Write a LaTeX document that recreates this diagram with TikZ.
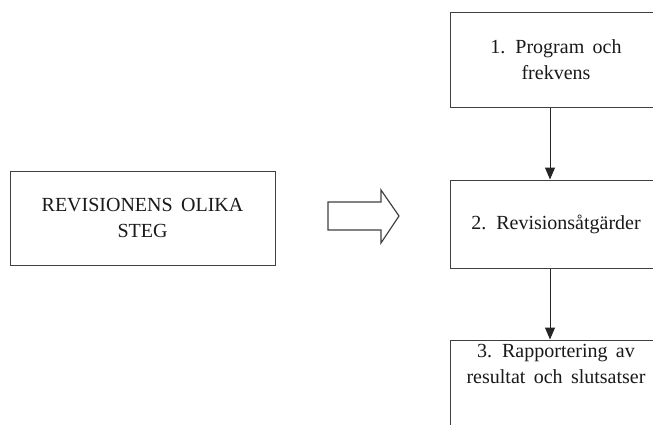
\documentclass[tikz,border=0pt]{standalone}
\usepackage{fontspec}
\setmainfont{Liberation Serif}
\usetikzlibrary{arrows.meta}
\begin{document}
\begin{tikzpicture}[x=1pt,y=-1pt,
  every node/.style={font=\fontsize{20}{26}\selectfont, text=black!90},
  box/.style={draw=black!75, line width=1pt, rectangle, inner sep=0pt},
  flow/.style={draw=black!85, line width=1pt, -{Triangle[width=10pt,length=12pt]}}]
  \useasboundingbox (0,0) rectangle (653,424);
  \clip (0,0) rectangle (653,424);
  \fill[white] (0,0) rectangle (653,424);

  % left summary box
  \node[box, minimum width=265pt, minimum height=94pt, align=center] (steg) at (142.5,218)
    {REVISIONENS\ \,OLIKA\\STEG};

  % block arrow pointing right
  \draw[draw=black!75, line width=1.2pt, line join=miter]
    (328,202) -- (381,202) -- (381,190) -- (399,216) -- (381,243) -- (381,230) -- (328,230) -- cycle;

  % step boxes
  \node[box, minimum width=212pt, minimum height=95pt, align=center] (s1) at (556,59.5)
    {1.\ \ Program\ \,och\\frekvens};
  \node[box, minimum width=212pt, minimum height=88pt] (s2) at (556,224)
    {2.\ \ Revisionsåtgärder};
  \node[box, minimum width=212pt, minimum height=95pt] (s3) at (556,387.5) {};
  \node[anchor=north, align=center, inner sep=0pt] (s3t) at ([yshift=-5pt]s3.north)
    {3.\ \ Rapportering\ \,av\\resultat\ \,och\ \,slutsatser};

  % connectors
  \draw[flow] (s1.south -| 550,0) -- (s2.north -| 550,0);
  \draw[flow] (s2.south -| 550,0) -- (s3.north -| 550,0);
\end{tikzpicture}
\end{document}
